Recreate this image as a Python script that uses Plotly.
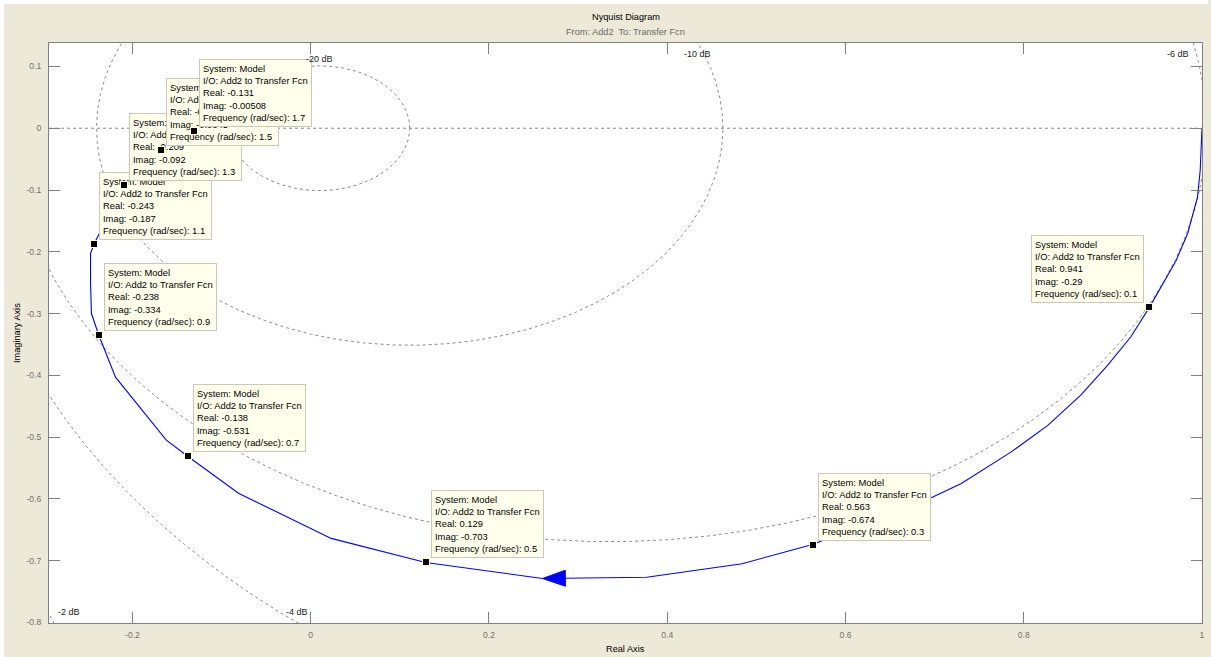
import numpy as np
import plotly.graph_objects as go

# ---- Nyquist locus, positive frequencies (polyline vertices) ----
re_curve = [1.0, 0.998, 0.995, 0.984, 0.971, 0.954, 0.941, 0.920, 0.894, 0.864,
            0.827, 0.786, 0.730, 0.698, 0.563, 0.484, 0.377, 0.260, 0.129, 0.023,
            -0.081, -0.138, -0.162, -0.219, -0.238, -0.246, -0.247, -0.247, -0.243,
            -0.209, -0.168, -0.131]
im_curve = [0.0, -0.068, -0.111, -0.170, -0.214, -0.257, -0.29, -0.338, -0.384, -0.432,
            -0.481, -0.524, -0.575, -0.597, -0.674, -0.705, -0.727, -0.729, -0.703, -0.664,
            -0.591, -0.531, -0.505, -0.403, -0.334, -0.300, -0.251, -0.203, -0.187,
            -0.092, -0.0345, -0.00508]
arrow_vertex = 17          # direction arrow sits on this vertex

# ---- data tips ----
tip_freq = [0.1, 0.3, 0.5, 0.7, 0.9, 1.1, 1.3, 1.5, 1.7]
tip_re = [0.941, 0.563, 0.129, -0.138, -0.238, -0.243, -0.209, -0.168, -0.131]
tip_im = [-0.29, -0.674, -0.703, -0.531, -0.334, -0.187, -0.092, -0.0345, -0.00508]
tip_side = ["left", "right", "right", "right", "right", "right", "right", "right", "right"]

# ---- constant closed-loop magnitude grid (M-circles) ----
grid_db = [-20, -10, -6, -4, -2]
grid_label_x = [0.0095, 0.4345, 0.973, -0.0151, -0.2707]
grid_label_y = [0.112, 0.120, 0.120, -0.7836, -0.7836]

# ---- axes ----
x_range = [-0.2936, 1.0]
y_range = [-0.801, 0.138]
x_ticks = [-0.2, 0, 0.2, 0.4, 0.6, 0.8, 1]
x_ticktext = ["-0.2", "0", "0.2", "0.4", "0.6", "0.8", "1"]
y_ticks = [0.1, 0, -0.1, -0.2, -0.3, -0.4, -0.5, -0.6, -0.7, -0.8]
y_ticktext = ["0.1", "0", "-0.1", "-0.2", "-0.3", "-0.4", "-0.5", "-0.6", "-0.7", "-0.8"]

W, H = 1211, 657
ML, MR, MT, MB = 49, 6, 43, 34
PW, PH = W - ML - MR, H - MT - MB
FONT = "Liberation Sans, Arial, sans-serif"
GRID_COLOR = "#8a8a8a"
AX_COLOR = "#808080"

fig = go.Figure()

# M-circles
theta = np.linspace(0, 2 * np.pi, 1441)
for db in grid_db:
    m = 10 ** (db / 20)
    c = m * m / (1 - m * m)
    r = m / (1 - m * m)
    fig.add_trace(go.Scatter(
        x=c + r * np.cos(theta), y=r * np.sin(theta), mode="lines",
        line=dict(color=GRID_COLOR, width=1, dash="3px,3px"),
        hoverinfo="skip", showlegend=False))

# Nyquist curve
fig.add_trace(go.Scatter(
    x=re_curve, y=im_curve, mode="lines",
    line=dict(color="#0000FF", width=1.1),
    hoverinfo="skip", showlegend=False))

# direction arrowhead (filled triangle), built in pixel space then mapped back
sx = PW / (x_range[1] - x_range[0])
sy = PH / (y_range[1] - y_range[0])
tx, ty = re_curve[arrow_vertex], im_curve[arrow_vertex]
bx, by = re_curve[arrow_vertex - 1], im_curve[arrow_vertex - 1]
dx, dy = (bx - tx) * sx, (by - ty) * sy
n = np.hypot(dx, dy)
ux, uy = dx / n, dy / n
L, HW = 23, 8
base_x, base_y = L * ux, L * uy
p1 = (base_x - HW * uy, base_y + HW * ux)
p2 = (base_x + HW * uy, base_y - HW * ux)
fig.add_trace(go.Scatter(
    x=[tx, tx + p1[0] / sx, tx + p2[0] / sx, tx],
    y=[ty, ty + p1[1] / sy, ty + p2[1] / sy, ty],
    mode="lines", fill="toself", fillcolor="#0000FF",
    line=dict(color="#0000FF", width=1), hoverinfo="skip", showlegend=False))

annotations = []

# data tips: box, then its marker, so later tips stack on earlier ones
for f, re, im, side in zip(tip_freq, tip_re, tip_im, tip_side):
    txt = "<br>".join([
        "System: Model",
        "I/O: Add2 to Transfer Fcn",
        f"Real: {re:.3g}",
        f"Imag: {im:.3g}",
        f"Frequency (rad/sec): {f:g}",
    ])
    annotations.append(dict(
        x=re, y=im, xref="x", yref="y", text=txt, showarrow=False, align="left",
        font=dict(family=FONT, size=9.4, color="#000000"),
        bgcolor="#FFFFEB", bordercolor="#C9C9B8", borderwidth=1, borderpad=3,
        xanchor="left" if side == "right" else "right", yanchor="bottom",
        xshift=5 if side == "right" else -5, yshift=4))
    annotations.append(dict(
        x=re, y=im, xref="x", yref="y", text=" ", showarrow=False,
        font=dict(size=1), bgcolor="#000000", bordercolor="#FFFFD0",
        borderwidth=1, borderpad=0, width=6, height=6,
        xanchor="center", yanchor="middle"))

# grid labels, drawn over the tips
for db, gx, gy in zip(grid_db, grid_label_x, grid_label_y):
    annotations.append(dict(
        x=gx, y=gy, xref="x", yref="y", text=f"{db} dB", showarrow=False,
        font=dict(family=FONT, size=9, color="#222222"),
        xanchor="center", yanchor="middle"))

# titles
annotations += [
    dict(x=0.5, y=1, xref="paper", yref="paper", text="Nyquist Diagram",
         showarrow=False, yanchor="middle", yshift=MT - 17,
         font=dict(family=FONT, size=9.2, color="#000000")),
    dict(x=0.5, y=1, xref="paper", yref="paper", text="From: Add2  To: Transfer Fcn",
         showarrow=False, yanchor="middle", yshift=MT - 31.5,
         font=dict(family=FONT, size=9.2, color="#6a6a6a")),
    dict(x=0.5, y=0, xref="paper", yref="paper", text="Real Axis",
         showarrow=False, yanchor="middle", yshift=-(649 - (H - MB)),
         font=dict(family=FONT, size=9.2, color="#000000")),
    dict(x=0, y=0.5, xref="paper", yref="paper", text="Imaginary Axis",
         showarrow=False, xanchor="center", yanchor="middle", textangle=-90,
         xshift=-(ML - 17), font=dict(family=FONT, size=9.2, color="#000000")),
]

shapes = [
    # real axis reference line
    dict(type="line", xref="paper", yref="y", x0=0, x1=1, y0=0, y1=0,
         line=dict(color=GRID_COLOR, width=1, dash="3px,3px"), layer="below"),
    # light window edge along top and left
    dict(type="rect", xref="paper", yref="paper",
         x0=-ML / PW, x1=(W - ML) / PW, y0=1 + (MT - 4) / PH, y1=1 + MT / PH,
         fillcolor="#FFFFFF", line=dict(width=0), layer="above"),
    dict(type="rect", xref="paper", yref="paper",
         x0=-ML / PW, x1=-(ML - 4) / PW, y0=-MB / PH, y1=1 + MT / PH,
         fillcolor="#FFFFFF", line=dict(width=0), layer="above"),
]

axis_common = dict(
    showgrid=False, zeroline=False, showline=True, mirror="ticks",
    linecolor=AX_COLOR, linewidth=1, ticks="inside", ticklen=11,
    tickcolor=AX_COLOR, tickwidth=1,
    tickfont=dict(family=FONT, size=8.6, color="#707070"),
)

fig.update_layout(
    width=W, height=H, autosize=False,
    margin=dict(l=ML, r=MR, t=MT, b=MB, pad=0),
    paper_bgcolor="#ECE9D8", plot_bgcolor="#FFFFFF",
    xaxis=dict(range=x_range, tickvals=x_ticks, ticktext=x_ticktext,
               ticklabelstandoff=4, **axis_common),
    yaxis=dict(range=y_range, tickvals=y_ticks, ticktext=y_ticktext,
               ticklabelstandoff=5, **axis_common),
    annotations=annotations, shapes=shapes, showlegend=False,
)

fig.write_html("out.html")
